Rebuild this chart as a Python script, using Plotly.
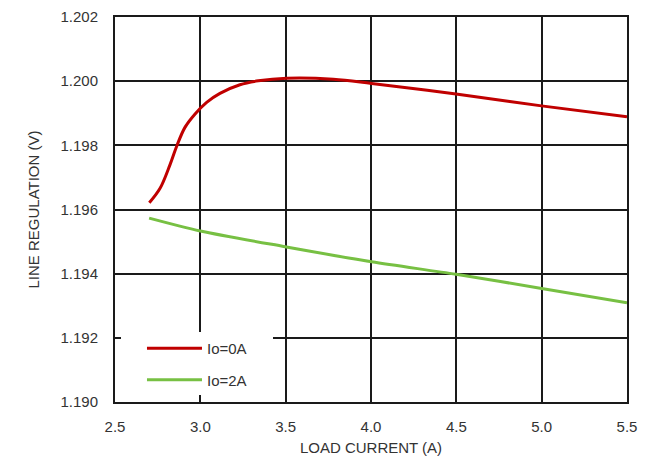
import plotly.graph_objects as go

x_io0 = [2.701, 2.764, 2.822, 2.862, 2.910, 2.968, 3.037, 3.115, 3.232, 3.340, 3.506, 3.779, 4.004, 4.498, 4.999, 5.50]
y_io0 = [1.19621, 1.19666, 1.19739, 1.19798, 1.19856, 1.19897, 1.19934, 1.19962, 1.19989, 1.20001, 1.20009,
         1.20006, 1.19993, 1.19960, 1.19923, 1.19889]

x_io2 = [2.70, 3.00, 3.496, 4.004, 4.498, 5.00, 5.50]
y_io2 = [1.19573, 1.19533, 1.19484, 1.19437, 1.19398, 1.19354, 1.19309]

x_ticks = [2.5, 3.0, 3.5, 4.0, 4.5, 5.0, 5.5]
x_tick_labels = ["2.5", "3.0", "3.5", "4.0", "4.5", "5.0", "5.5"]
y_ticks = [1.190, 1.192, 1.194, 1.196, 1.198, 1.200, 1.202]
y_tick_labels = ["1.190", "1.192", "1.194", "1.196", "1.198", "1.200", "1.202"]

FONT = "Liberation Sans, Arial, sans-serif"
TXT = "#333333"
FS = 15

fig = go.Figure()
fig.add_trace(go.Scatter(x=x_io0, y=y_io0, mode="lines", name="Io=0A", legendgroup="a",
                         line=dict(color="#C00000", width=3, shape="spline", smoothing=1.0)))
fig.add_trace(go.Scatter(x=x_io2, y=y_io2, mode="lines", name="Io=2A", legendgroup="b",
                         line=dict(color="#77C043", width=3, shape="spline", smoothing=0.8)))

axis_common = dict(showgrid=True, gridcolor="#1a1a1a", gridwidth=1.5, showline=True,
                   linecolor="#1a1a1a", linewidth=2, mirror=True, zeroline=False, ticks="",
                   automargin=False,
                   tickfont=dict(family=FONT, size=FS, color=TXT))

fig.update_xaxes(range=[2.5, 5.5], tickvals=x_ticks, ticktext=x_tick_labels,
                 title=dict(text="LOAD CURRENT (A)", font=dict(family=FONT, size=FS, color=TXT), standoff=8),
                 ticklabelstandoff=10,
                 **axis_common)
fig.update_yaxes(range=[1.190, 1.202], tickvals=y_ticks, ticktext=y_tick_labels,
                 title=dict(text="LINE REGULATION (V)", font=dict(family=FONT, size=FS, color=TXT), standoff=17),
                 ticklabelstandoff=12,
                 **axis_common)

# white legend box background
fig.add_shape(type="rect", xref="paper", yref="paper", x0=0.0117, x1=0.3086, y0=0.0182, y1=0.1818,
              fillcolor="white", line=dict(width=0), layer="above")

fig.update_layout(
    width=640, height=456,
    margin=dict(l=107, r=21, t=9, b=62),
    paper_bgcolor="white", plot_bgcolor="white",
    font=dict(family=FONT, size=FS, color=TXT),
    legend=dict(x=0.0527, y=0.1818, xanchor="left", yanchor="top", bgcolor="rgba(0,0,0,0)",
                borderwidth=0, tracegroupgap=9, itemwidth=55,
                font=dict(family=FONT, size=FS, color=TXT)),
    showlegend=True,
)

fig.write_html("out.html")
